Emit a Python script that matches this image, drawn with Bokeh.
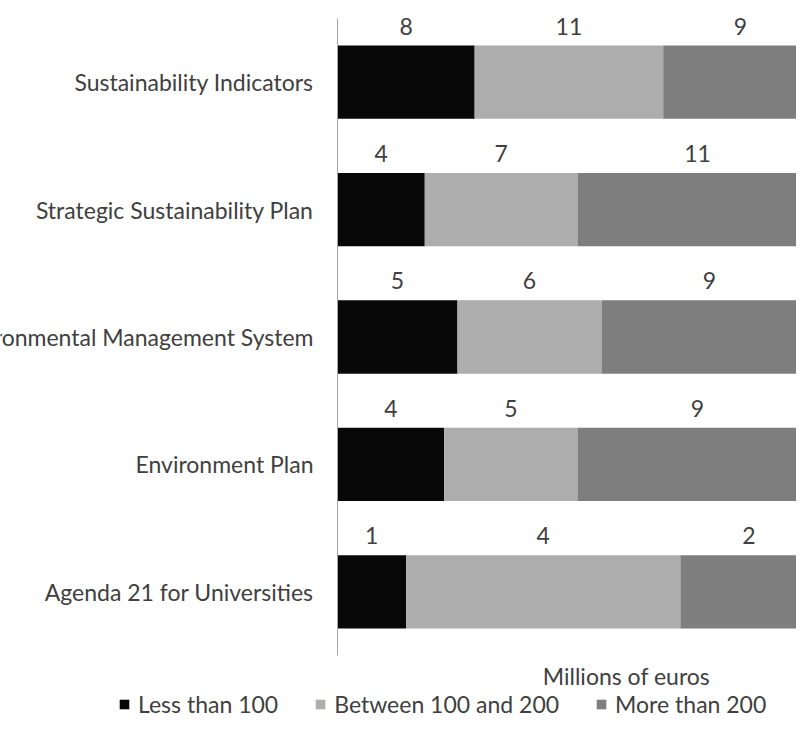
import numpy as np
from bokeh.plotting import figure
from bokeh.models import ColumnDataSource, Range1d, Legend, LegendItem
from bokeh.core.properties import value
from bokeh.embed import file_html
from bokeh.resources import INLINE

# ---- data (top to bottom as in the chart) ----
categories = [
    "Sustainability Indicators",
    "Strategic Sustainability Plan",
    "Environmental Management System",
    "Environment Plan",
    "Agenda 21 for Universities",
]
less_than_100 = [8, 4, 5, 4, 1]
between_100_200 = [11, 7, 6, 5, 4]
more_than_200 = [9, 11, 9, 9, 2]
series_names = ["Less than 100", "Between 100 and 200", "More than 200"]
x_axis_title = "Millions of euros"

FONT = "Lato"
FS = "23px"
TXT = "#404040"
colors = ["#080808", "#adadad", "#7e7e7e"]

n = len(categories)
W, H = 796, 718
# layout in canvas pixels
FRAME_L, FRAME_T, FRAME_B = 337, 18, 655
PX_X = 480.0                       # pixels for 100 %
PX_Y = (FRAME_B - FRAME_T) / n     # pixels per category band

ypos = n - np.arange(n) - 0.5      # top category highest
a = np.array(less_than_100, dtype=float)
b = np.array(between_100_200, dtype=float)
c = np.array(more_than_200, dtype=float)
tot = a + b + c
fa, fb, fc = a / tot, b / tot, c / tot

src = ColumnDataSource(dict(y=ypos, s0=fa, s1=fb, s2=fc, cat=categories,
                            zero=np.zeros(n)))

p = figure(width=W, height=H, output_backend="svg", toolbar_location=None,
           x_range=Range1d(-FRAME_L / PX_X, (W - FRAME_L) / PX_X),
           y_range=Range1d(-(H - FRAME_B) / PX_Y, n + FRAME_T / PX_Y),
           x_axis_location=None, y_axis_location=None, min_border=0)
p.outline_line_color = None
p.grid.visible = False
p.background_fill_color = "white"
p.border_fill_color = "white"

rs = p.hbar_stack(["s0", "s1", "s2"], y="y", height=0.575, color=colors,
                  line_color=None, source=src)

# vertical axis line along the category area
p.segment(x0=[0], y0=[0], x1=[0], y1=[n], line_color="#a6a6a6", line_width=1)

# category labels
p.text(x="zero", y="y", text="cat", source=src, x_offset=-24,
       text_align="right", text_baseline="middle", text_font=value(FONT),
       text_font_size=FS, text_color=TXT)

# value labels above each segment
starts = [np.zeros(n), fa, fa + fb]
fracs = [fa, fb, fc]
vals = [a, b, c]
mx, my, mt = [], [], []
for st, fr, v in zip(starts, fracs, vals):
    mx += list(st + fr / 2)
    my += list(ypos + 0.44)
    mt += [str(int(t)) for t in v]
lab_src = ColumnDataSource(dict(x=mx, y=my, t=mt))
p.text(x="x", y="y", text="t", source=lab_src, text_align="center",
       text_baseline="middle", text_font=value(FONT), text_font_size=FS,
       text_color=TXT)

# axis title
p.text(x=[(626 - FRAME_L) / PX_X], y=[-20 / PX_Y], text=[x_axis_title],
       text_align="center", text_baseline="middle", text_font=value(FONT),
       text_font_size=FS, text_color=TXT)

# legend
items = [LegendItem(label=nm, renderers=[r]) for nm, r in zip(series_names, rs)]
legend = Legend(items=items, orientation="horizontal", location=(118, 0),
                glyph_width=12, glyph_height=12, label_standoff=8, spacing=36,
                padding=0, margin=0, border_line_color=None,
                background_fill_alpha=0, label_text_font=FONT,
                label_text_font_size=FS, label_text_color=TXT,
                label_height=23)
p.add_layout(legend, "center")

open("out.html", "w").write(file_html(p, INLINE))
